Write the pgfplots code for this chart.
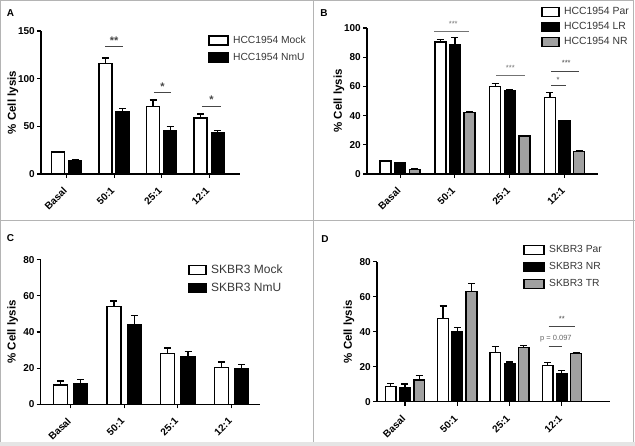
\documentclass[border=0pt]{standalone}
\usepackage{pgfplots}
\pgfplotsset{compat=1.18}
\usepackage{fontspec}
\setmainfont{Liberation Sans}
\definecolor{gbar}{RGB}{160,160,160}
\definecolor{framec}{RGB}{180,180,180}
\definecolor{legtext}{RGB}{55,55,55}
\definecolor{sigc}{RGB}{70,70,70}

\pgfplotsset{
  panel/.style={
    scale only axis, anchor=south west, clip=false,
    axis lines=left, axis line style={-, line width=1.2pt, black},
    ymin=0, xtick={0,1,2,3}, xticklabels={Basal,50:1,25:1,12:1},
    tick align=outside, major tick length=4pt,
    tick style={line width=1.1pt, black},
    minor tick num=0,
    /pgf/number format/assume math mode=true,
    ticklabel style={font=\bfseries\fontsize{10}{12}\selectfont},
    xticklabel style={xshift=-4pt, yshift=-7pt, rotate=45, anchor=north east, inner sep=1pt},
    yticklabel style={inner sep=2pt},
    ylabel={\% Cell lysis},
    every axis y label/.style={at={(axis description cs:0,0.5)}, xshift=-28pt, rotate=90, anchor=center, font=\bfseries\fontsize{11.5}{13}\selectfont},
    legend cell align=left,
    legend style={draw=none, fill=none, anchor=north west, inner sep=0pt, text=legtext, column sep=3pt,
      nodes={inner sep=1.5pt, text height=7.5pt, text depth=2pt}},
    error bars/y dir=plus, error bars/y explicit,
    error bars/error bar style={line width=1.2pt, black},
    error bars/error mark options={line width=1.2pt, black, mark size=3.5pt, rotate=90},
  },
  wbar/.style={ybar, bar shift=0pt, fill=white, draw=black, line width=1.4pt},
  kbar/.style={ybar, bar shift=0pt, fill=black, draw=black, line width=1.4pt},
  gbarst/.style={ybar, bar shift=0pt, fill=gbar, draw=black, line width=1.4pt},
}

\begin{document}
\begin{tikzpicture}[x=1pt,y=1pt]
\useasboundingbox (0,0) rectangle (635,446);
\fill[white] (0,0) rectangle (635,446);
\fill[black!10] (0,0) rectangle (635,4);
\draw[framec, line width=1pt] (0.5,4) -- (0.5,445.5) -- (633.5,445.5) -- (633.5,4);
\draw[framec, line width=1pt] (313,4) -- (313,446);
\draw[framec, line width=1pt] (0,225.5) -- (635,225.5);

\node[font=\bfseries\fontsize{10}{12}\selectfont] at (10.5,433) {A};
\node[font=\bfseries\fontsize{10}{12}\selectfont] at (324,433) {B};
\node[font=\bfseries\fontsize{10}{12}\selectfont] at (10.5,208) {C};
\node[font=\bfseries\fontsize{10}{12}\selectfont] at (325,207) {D};

% Panel A
\begin{axis}[panel, at={(41pt,272pt)}, width=199pt, height=143pt,
  xmin=-0.537, xmax=3.65, ymax=150, ytick={0,50,100,150},
  legend style={at={(0.839,0.979)}, font=\fontsize{10.3}{12}\selectfont, row sep=4.5pt},
  legend image code/.code={\draw[#1] (0pt,-4.5pt) rectangle (19pt,4.5pt);}]
\addplot[wbar, bar width=0.27] coordinates {
  (-0.18,23) +- (0,1) (0.82,116) +- (0,5.7) (1.82,71) +- (0,6.6) (2.82,58.7) +- (0,4.3)};
\addplot[kbar, bar width=0.27] coordinates {
  (0.18,14) +- (0,1) (1.18,65.8) +- (0,3.2) (2.18,45.4) +- (0,4.2) (3.18,43.3) +- (0,2)};
\legend{HCC1954 Mock, HCC1954 NmU}
\draw[sigc, line width=0.9pt] (axis cs:0.82,133.5) -- (axis cs:1.18,133.5);
\node[anchor=base, inner sep=0pt, font=\bfseries\fontsize{11}{12}\selectfont, sigc] at (axis cs:1,136) {**};
\draw[sigc, line width=0.9pt] (axis cs:1.84,86) -- (axis cs:2.19,86);
\node[anchor=base, inner sep=0pt, font=\bfseries\fontsize{11}{12}\selectfont, sigc] at (axis cs:2.02,88) {*};
\draw[sigc, line width=0.9pt] (axis cs:2.85,71.3) -- (axis cs:3.25,71.3);
\node[anchor=base, inner sep=0pt, font=\bfseries\fontsize{11}{12}\selectfont, sigc] at (axis cs:3.05,73.5) {*};
\end{axis}

% Panel B
\begin{axis}[panel, at={(367pt,272pt)}, width=231pt, height=146pt,
  xmin=-0.604, xmax=3.61, ymax=100, ytick={0,20,40,60,80,100},
  legend style={at={(0.753,1.153)}, font=\fontsize{10.4}{12}\selectfont, row sep=2.5pt},
  legend image code/.code={\draw[#1] (0pt,-4.5pt) rectangle (17pt,4.5pt);}]
\addplot[wbar, bar width=0.2] coordinates {
  (-0.266,8.9) +- (0,0.6) (0.734,90.5) +- (0,1.8) (1.734,59.8) +- (0,2.2) (2.734,52.5) +- (0,3.5)};
\addplot[kbar, bar width=0.2] coordinates {
  (0,7.5) +- (0,0.5) (1,88.8) +- (0,4.8) (2,57) +- (0,0.5) (3,36.4) +- (0,0.5)};
\addplot[gbarst, bar width=0.2] coordinates {
  (0.266,3) +- (0,0.5) (1.266,42) +- (0,0.7) (2.266,26) +- (0,0.5) (3.266,15.5) +- (0,0.5)};
\legend{HCC1954 Par, HCC1954 LR, HCC1954 NR}
\draw[black!55, line width=0.8pt] (axis cs:0.62,97.7) -- (axis cs:1.25,97.7);
\node[anchor=base, inner sep=0pt, font=\fontsize{7.5}{9}\selectfont, black!55] at (axis cs:0.97,101.1) {***};
\draw[black!55, line width=0.8pt] (axis cs:1.75,67.3) -- (axis cs:2.27,67.3);
\node[anchor=base, inner sep=0pt, font=\fontsize{7.5}{9}\selectfont, black!55] at (axis cs:2.01,71.1) {***};
\draw[sigc, line width=0.8pt] (axis cs:2.76,70.5) -- (axis cs:3.27,70.5);
\node[anchor=base, inner sep=0pt, font=\fontsize{7.5}{9}\selectfont, sigc] at (axis cs:3.03,74.1) {***};
\draw[sigc, line width=0.8pt] (axis cs:2.76,60.5) -- (axis cs:3.02,60.5);
\node[anchor=base, inner sep=0pt, font=\fontsize{7.5}{9}\selectfont, sigc] at (axis cs:2.88,62.8) {*};
\end{axis}

% Panel C
\begin{axis}[panel, at={(40.7pt,41.7pt)}, width=219.3pt, height=144.6pt,
  xmin=-0.555, xmax=3.53, ymax=80, ytick={0,20,40,60,80},
  legend style={at={(0.672,0.977)}, font=\fontsize{12}{14}\selectfont, row sep=4pt,
    nodes={inner sep=1.5pt, text height=8.5pt, text depth=2.5pt}},
  legend image code/.code={\draw[#1] (0pt,-4.5pt) rectangle (17pt,4.5pt);}]
\addplot[wbar, bar width=0.26] coordinates {
  (-0.19,10.7) +- (0,2.2) (0.81,54.2) +- (0,2.9) (1.81,28.2) +- (0,3) (2.81,20.5) +- (0,2.9)};
\addplot[kbar, bar width=0.26] coordinates {
  (0.19,11.2) +- (0,2.6) (1.19,44.2) +- (0,4.8) (2.19,26.4) +- (0,2.7) (3.19,19.9) +- (0,2)};
\legend{SKBR3 Mock, SKBR3 NmU}
\end{axis}

% Panel D
\begin{axis}[panel, at={(377pt,44.3pt)}, width=233pt, height=140pt,
  xmin=-0.535, xmax=3.92, ymax=80, ytick={0,20,40,60,80},
  legend style={at={(0.627,1.13)}, font=\fontsize{10.3}{12}\selectfont, row sep=4.5pt},
  legend image code/.code={\draw[#1] (0pt,-4.5pt) rectangle (20pt,4.5pt);}]
\addplot[wbar, bar width=0.205] coordinates {
  (-0.272,8.6) +- (0,1.9) (0.728,47.6) +- (0,7.1) (1.728,28) +- (0,3.4) (2.728,20.8) +- (0,1.5)};
\addplot[kbar, bar width=0.205] coordinates {
  (0,8.2) +- (0,1.9) (1,40) +- (0,2.3) (2,21.9) +- (0,0.8) (3,16) +- (0,1.7)};
\addplot[gbarst, bar width=0.205] coordinates {
  (0.272,12.4) +- (0,2.5) (1.272,62.9) +- (0,4.5) (2.272,31) +- (0,1) (3.272,27.4) +- (0,0.8)};
\legend{SKBR3 Par, SKBR3 NR, SKBR3 TR}
\draw[sigc, line width=0.8pt] (axis cs:2.745,42.9) -- (axis cs:3.255,42.9);
\node[anchor=base, inner sep=0pt, font=\fontsize{7.5}{9}\selectfont, sigc] at (axis cs:3,45.8) {**};
\draw[sigc, line width=0.8pt] (axis cs:2.745,31.4) -- (axis cs:3,31.4);
\node[anchor=base, inner sep=0pt, font=\fontsize{7.5}{9}\selectfont, black!60] at (axis cs:2.885,34.8) {p = 0.097};
\end{axis}
\end{tikzpicture}
\end{document}
